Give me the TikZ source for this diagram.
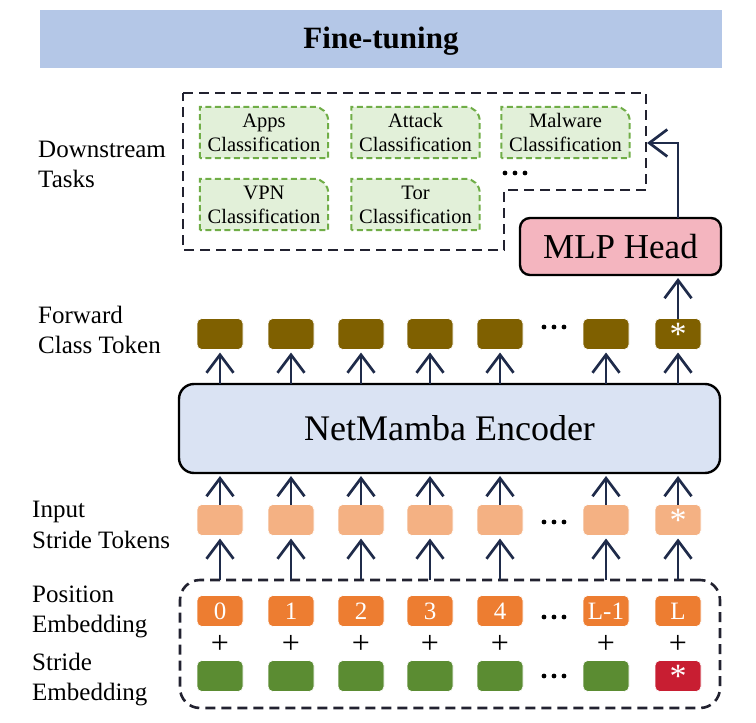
\documentclass[tikz,border=0pt]{standalone}
\usepackage{fontspec}
\setmainfont{Liberation Serif}
\usetikzlibrary{arrows.meta,calc}
\definecolor{titlebg}{HTML}{B4C7E7}
\definecolor{encfill}{HTML}{DAE3F3}
\definecolor{mlpfill}{HTML}{F4B5BF}
\definecolor{fwcol}{HTML}{7F6000}
\definecolor{incol}{HTML}{F4B183}
\definecolor{poscol}{HTML}{ED7D31}
\definecolor{strcol}{HTML}{5B8C32}
\definecolor{redcol}{HTML}{C81E32}
\definecolor{arrcol}{HTML}{1F2B4A}
\definecolor{dashcol}{HTML}{222230}
\definecolor{taskfill}{HTML}{E2F0D9}
\definecolor{taskline}{HTML}{70AD47}
\begin{document}
\begin{tikzpicture}[x=1pt,y=-1pt,
  tok/.style={rectangle,rounded corners=5pt,minimum width=46pt,minimum height=31pt,inner sep=0pt,outer sep=0pt,draw=white,line width=0.6pt,text=white,font=\fontsize{25}{25}\selectfont},
  fwtok/.style={tok,fill=fwcol},
  intok/.style={tok,fill=incol},
  postok/.style={tok,fill=poscol},
  strtok/.style={tok,fill=strcol},
  redtok/.style={tok,fill=redcol},
  star/.style={font=\fontsize{34}{34}\selectfont},
  plussign/.style={inner sep=0pt,font=\fontsize{32}{32}\selectfont},
  arr/.style={draw=arrcol,line width=2.7pt,-{Straight Barb[length=18pt,width=27pt]},shorten >=3pt},
  lbl/.style={anchor=base west,inner sep=0pt,font=\fontsize{25}{30}\selectfont},
  bigbox/.style={rectangle,draw=black,line width=2.4pt,inner sep=0pt,outer sep=0pt},
  dashbox/.style={draw=dashcol,line width=2.6pt,dash pattern=on 10pt off 6pt},
  tasknode/.style={rectangle,minimum width=128pt,minimum height=51pt,inner sep=0pt,align=center,font=\fontsize{20.5}{24}\selectfont},
  taskshape/.style={draw=taskline,fill=taskfill,line width=2pt,dash pattern=on 6pt off 3.5pt},
  dotsym/.style={fill=black}
]
\useasboundingbox (0,0) rectangle (756,723);

% title
\node[fill=titlebg,minimum width=682pt,minimum height=58pt,inner sep=0pt] (title) at (381,39) {};
\node[font=\fontsize{31}{31}\selectfont\bfseries,inner sep=0pt] (titletext) at (381,41) {Fine-tuning};

% left labels
\node[lbl] (l1a) at (38,157) {Downstream};
\node[lbl] (l1b) at (38,187) {Tasks};
\node[lbl] (l2a) at (38,323) {Forward};
\node[lbl] (l2b) at (38,353) {Class Token};
\node[lbl] (l3a) at (32,517) {Input};
\node[lbl] (l3b) at (32,548) {Stride Tokens};
\node[lbl] (l4a) at (32,602) {Position};
\node[lbl] (l4b) at (32,632) {Embedding};
\node[lbl] (l5a) at (32,670) {Stride};
\node[lbl] (l5b) at (32,700) {Embedding};

% downstream tasks dashed region
\draw[dashbox] (183,93) -- (646,93) -- (646,190) -- (504,190) -- (504,250) -- (183,250) -- cycle;
\coordinate (dsin) at (646,143);

% task boxes
\foreach \nm/\cx/\cy/\txt in {apps/264/132.5/Apps, attack/415.5/132.5/Attack, malware/565.5/132.5/Malware, vpn/264/204.5/VPN, tor/415.5/204.5/Tor}{
  \node[tasknode] (\nm) at (\cx,\cy) {};
  \draw[taskshape] (\nm.south west) -- (\nm.north west) -- ([xshift=-14pt]\nm.north east) arc[start angle=90,end angle=0,radius=14pt] -- (\nm.south east) -- cycle;
  \node[tasknode] (\nm txt) at (\cx,\cy) {\txt\\Classification};
}
\foreach \dx in {-10,0,10} \fill[dotsym] (515+\dx,173) circle (2.4pt);

% MLP head
\node[bigbox,fill=mlpfill,rounded corners=10pt,minimum width=201pt,minimum height=57pt,font=\fontsize{35}{35}\selectfont] (mlp) at (620.5,246.5) {MLP Head};

% encoder
\node[bigbox,fill=encfill,rounded corners=15pt,minimum width=541pt,minimum height=89pt,font=\fontsize{36}{36}\selectfont] (enc) at (449.5,428.5) {NetMamba Encoder};

% embedding dashed box
\node[dashbox,rectangle,rounded corners=20pt,minimum width=540pt,minimum height=128pt,inner sep=0pt,outer sep=0pt] (emb) at (450,644) {};

% token columns
\foreach \x/\lab [count=\i] in {220/0,291/1,361/2,430/3,500/4,606/L-1}{
  \node[fwtok] (fw\i) at (\x,334) {};
  \node[intok] (in\i) at (\x,520) {};
  \node[postok] (pos\i) at (\x,611) {\lab};
  \node[plussign] (plus\i) at (\x,644) {+};
  \node[strtok] (st\i) at (\x,676) {};
}
\node[fwtok,star] (fw7) at (678,334) {\raisebox{-8pt}{*}};
\node[intok,star] (in7) at (678,520) {\raisebox{-8pt}{*}};
\node[postok] (pos7) at (678,611) {L};
\node[plussign] (plus7) at (678,644) {+};
\node[redtok,star] (st7) at (678,676) {\raisebox{-8pt}{*}};

% ellipses
\foreach \yy in {327,522,617,676}{
  \foreach \dx in {-10,0,10} \fill[dotsym] (554+\dx,\yy) circle (2.4pt);
}

% arrows
\foreach \i in {1,...,7}{
  \draw[arr] (emb.north -| in\i) -- (in\i.south);
  \draw[arr] (in\i.north) -- (enc.south -| in\i);
  \draw[arr] (enc.north -| fw\i) -- (fw\i.south);
}
\draw[arr] (fw7.north) -- (mlp.south -| fw7);
\draw[arr,shorten >=1pt] (mlp.north -| fw7) |- (dsin);
\end{tikzpicture}
\end{document}
